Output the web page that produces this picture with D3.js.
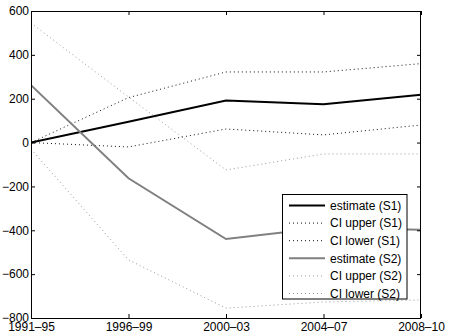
<!DOCTYPE html>
<html><head><meta charset="utf-8">
<script src="https://cdn.jsdelivr.net/npm/d3@7"></script>
<style>body{margin:0;background:#fff}svg{display:block}text{font-family:"Liberation Sans",Arial,Helvetica,sans-serif;font-size:12px}</style>
</head><body><div id="chart"></div>
<script>
const categories = ["1991\u201395","1996\u201399","2000\u201303","2004\u201307","2008\u201310"];
const estimateS1 = [0, 95, 192, 175, 218];
const ciUpperS1 = [0, 205, 322, 322, 360];
const ciLowerS1 = [0, -20, 62, 35, 80];
const estimateS2 = [262, -163, -440, -388, -398];
const ciUpperS2 = [545, 208, -125, -52, -52];
const ciLowerS2 = [-30, -535, -755, -727, -718];
const yTicks = [-800,-600,-400,-200,0,200,400,600];
const seriesNames = ["estimate (S1)","CI upper (S1)","CI lower (S1)","estimate (S2)","CI upper (S2)","CI lower (S2)"];

const W=449,H=336, L=31, R=421, T=11, B=318;
const svg=d3.select("#chart").append("svg").attr("width",W).attr("height",H);
const x=d3.scalePoint().domain(categories).range([L,R]);
const y=d3.scaleLinear().domain([-800,600]).range([B,T]);

const styles=[
 {data:estimateS1,color:"#000",w:2,dash:null},
 {data:ciUpperS1,color:"#111",w:1,dash:"1,3"},
 {data:ciLowerS1,color:"#111",w:1,dash:"1,3"},
 {data:estimateS2,color:"#808080",w:2,dash:null},
 {data:ciUpperS2,color:"#999",w:1,dash:"1,3"},
 {data:ciLowerS2,color:"#999",w:1,dash:"1,3"}
];
const line=d3.line().x((d,i)=>x(categories[i])).y(d=>y(d));
const g=svg.append("g");
g.append("clipPath").attr("id","clip").append("rect").attr("x",L).attr("y",T).attr("width",R-L).attr("height",B-T);
styles.forEach(s=>{
  g.append("path").datum(s.data).attr("d",line).attr("fill","none")
   .attr("stroke",s.color).attr("stroke-width",s.w).attr("stroke-dasharray",s.dash)
   .attr("clip-path","url(#clip)");
});

// axes (box with inward ticks)
const fmt=d=>d<0?"\u2212"+Math.abs(d):String(d);
const axL=d3.axisLeft(y).tickValues(yTicks).tickSizeInner(-4).tickSizeOuter(0).tickPadding(2).tickFormat(fmt);
const axR=d3.axisRight(y).tickValues(yTicks).tickSizeInner(-4).tickSizeOuter(0).tickFormat("");
const axB=d3.axisBottom(x).tickSizeInner(-4).tickSizeOuter(0).tickPadding(4);
const axT=d3.axisTop(x).tickSizeInner(-4).tickSizeOuter(0).tickFormat("");
function style(sel){sel.selectAll("path").remove();sel.selectAll("line").attr("stroke","#000");sel.selectAll("text").attr("fill","#000").style("font-size","12px");}
svg.append("g").attr("transform",`translate(${L},0)`).call(axL).call(style);
svg.append("g").attr("transform",`translate(${R},0)`).call(axR).call(style);
svg.append("g").attr("transform",`translate(0,${B})`).call(axB).call(style);
svg.append("g").attr("transform",`translate(0,${T})`).call(axT).call(style);
svg.append("rect").attr("x",L+0.5).attr("y",T+0.5).attr("width",R-L-1).attr("height",B-T).attr("fill","none").attr("stroke","#000").attr("stroke-width",1);

// legend
const lx=282.5, ly=194.5, lw=124.5, lh=104.5, rowH=17.6;
const leg=svg.append("g");
leg.append("rect").attr("x",lx).attr("y",ly).attr("width",lw).attr("height",lh).attr("fill","#fff").attr("stroke","#000").attr("stroke-width",1);
seriesNames.forEach((n,i)=>{
  const yy=ly+11+i*rowH;
  const s=styles[i];
  leg.append("line").attr("x1",289).attr("x2",325).attr("y1",yy).attr("y2",yy)
    .attr("stroke",s.color).attr("stroke-width",s.w).attr("stroke-dasharray",s.dash);
  leg.append("text").attr("x",330).attr("y",yy).attr("dy","0.35em").text(n);
});
</script></body></html>
